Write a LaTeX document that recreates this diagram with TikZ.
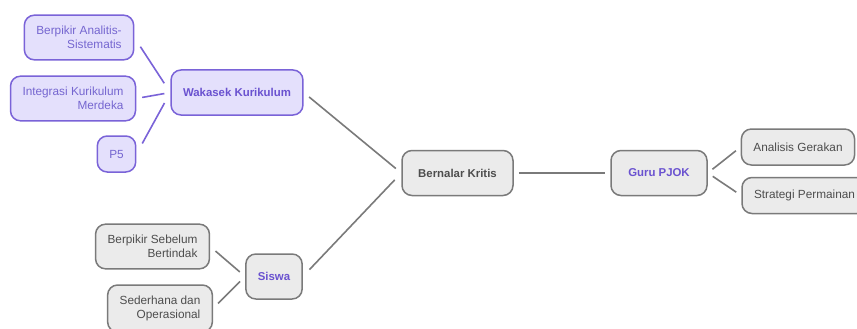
\documentclass[tikz,border=0pt]{standalone}
\usepackage{fontspec}
\setmainfont{Liberation Sans}
\definecolor{lavfill}{HTML}{E4E0FC}
\definecolor{lavdraw}{HTML}{7A63D8}
\definecolor{lavtext}{HTML}{7566D0}
\definecolor{hubtext}{HTML}{6A52D0}
\definecolor{greyfill}{HTML}{EBEBEB}
\definecolor{greydraw}{HTML}{7A7A7A}
\definecolor{greytext}{HTML}{4D4D4D}
\tikzset{
  box/.style={draw, rounded corners=10pt, line width=1.5pt, inner xsep=12pt, inner ysep=11pt, minimum height=36pt, align=right, font=\fontsize{11.8}{14}\selectfont},
  purplebox/.style={box, fill=lavfill, draw=lavdraw, text=lavtext},
  greybox/.style={box, fill=greyfill, draw=greydraw, text=greytext},
  hub/.style={minimum height=45pt, font=\fontsize{11.4}{14}\selectfont\bfseries},
  purplelink/.style={draw=lavdraw, line width=1.6pt},
  greylink/.style={draw=greydraw, line width=1.6pt}
}

\begin{document}
\begin{tikzpicture}[x=1pt,y=-1pt]
\path[use as bounding box, fill=white] (0,0) rectangle (857,329);
\node[purplebox] (analitis) at (79,37.5) {Berpikir Analitis-\\Sistematis};
\node[purplebox] (integrasi) at (73,98.5) {Integrasi Kurikulum\\Merdeka};
\node[purplebox] (pfive) at (116.5,154) {P5};
\node[purplebox, hub, text=hubtext] (wakasek) at (237,92.5) {Wakasek Kurikulum};
\node[greybox] (sebelum) at (152.5,246.5) {Berpikir Sebelum\\Bertindak};
\node[greybox] (sederhana) at (160,308.5) {Sederhana dan\\Operasional};
\node[greybox, hub, text=hubtext] (siswa) at (274,276.5) {Siswa};
\node[greybox, hub, minimum width=111pt] (bernalar) at (457.5,173) {Bernalar Kritis};
\node[greybox, hub, minimum width=96pt, text=hubtext] (guru) at (659,173) {Guru PJOK};
\node[greybox] (gerakan) at (798,147) {Analisis Gerakan};
\node[greybox] (strategi) at (804.5,195.5) {Strategi Permainan};
\foreach \a/\b/\s in {analitis/wakasek/11, integrasi/wakasek/6, pfive/wakasek/12} { \draw[purplelink, shorten <=\s pt, shorten >=\s pt] (\a.east) -- (\b.west); }
\foreach \a/\b/\s in {sebelum/siswa/7, sederhana/siswa/7, wakasek/bernalar/7, siswa/bernalar/9.5, bernalar/guru/5, guru/gerakan/6, guru/strategi/6} { \draw[greylink, shorten <=\s pt, shorten >=\s pt] (\a.east) -- (\b.west); }
\end{tikzpicture}
\end{document}
